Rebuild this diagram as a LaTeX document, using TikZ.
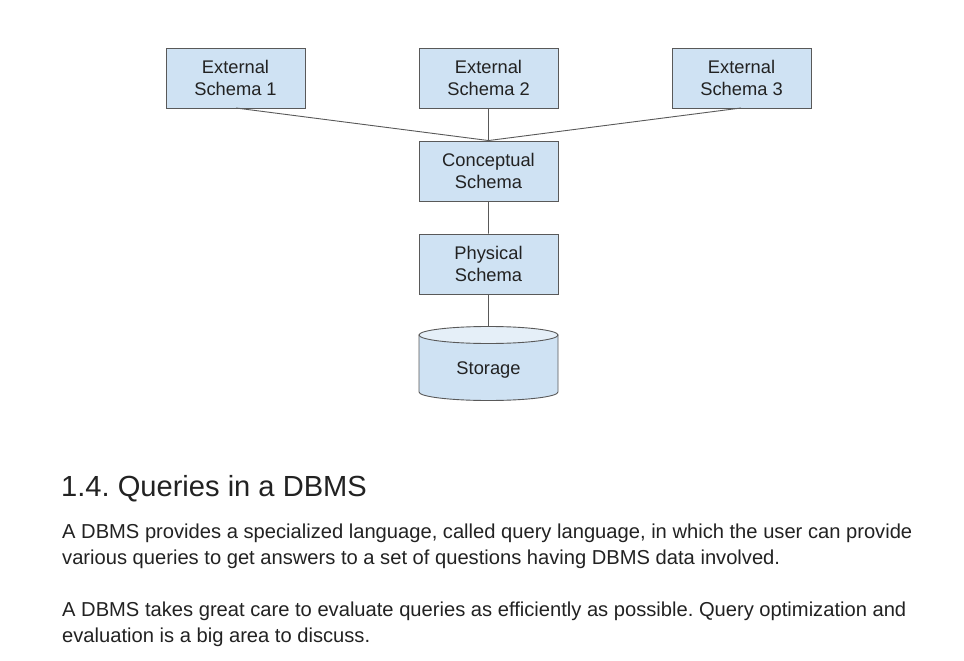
\documentclass[tikz,border=0pt]{standalone}
\usepackage{fontspec}
\setmainfont{Liberation Sans}
\frenchspacing
\definecolor{boxfill}{HTML}{CFE2F3}
\definecolor{boxline}{HTML}{595959}
\definecolor{txt}{HTML}{222222}
\begin{document}
\begin{tikzpicture}[x=1pt,y=-1pt,
  schemabox/.style={draw=boxline,fill=boxfill,line width=0.9pt,minimum width=139pt,minimum height=60pt,inner sep=0pt,align=center,font=\fontsize{18.3}{22}\selectfont,text=txt},
  link/.style={draw=boxline,line width=0.9pt},
  body/.style={anchor=base west,inner sep=0pt,font=\fontsize{20.15}{26}\selectfont,text=txt}]
\useasboundingbox (0,0) rectangle (964,661);
\fill[white] (0,0) rectangle (964,661);
\node[schemabox] (e1) at (235.5,78) {External\\Schema 1};
\node[schemabox] (e2) at (488.5,78) {External\\Schema 2};
\node[schemabox] (e3) at (741.5,78) {External\\Schema 3};
\node[schemabox] (cs) at (488.5,171) {Conceptual\\Schema};
\node[schemabox] (ps) at (488.5,264) {Physical\\Schema};
% storage cylinder
\draw[draw=boxline,fill=boxfill,line width=0.9pt]
  (419,335) -- (419,392) arc[start angle=180,end angle=360,x radius=69.5,y radius=-8.5]
  -- (558,335) -- cycle;
\draw[draw=boxline,fill=boxfill!55!white,line width=0.9pt] (488.5,335) ellipse[x radius=69.5,y radius=8.5];
\coordinate (sttop) at (488.5,326.5);
\node[inner sep=0pt,font=\fontsize{18.3}{22}\selectfont,text=txt] (st) at (488.5,370) {Storage};
\coordinate (e1b) at (236,108);
\coordinate (e3b) at (741,108);
\path[link] (e1b) -- (cs.north) (e3b) -- (cs.north) (e2.south) -- (cs.north)
  (cs.south) -- (ps.north) (ps.south) -- (sttop);
\node[anchor=base west,inner sep=0pt,font=\fontsize{29.1}{32}\selectfont,text=txt] (h) at (61,496.5) {1.4. Queries in a DBMS};
\node[body] (p1) at (62,538) {A DBMS provides a specialized language, called query language, in which the user can provide};
\node[body] (p2) at (62,564) {various queries to get answers to a set of questions having DBMS data involved.};
\node[body] (p3) at (62,616) {A DBMS takes great care to evaluate queries as efficiently as possible. Query optimization and};
\node[body] (p4) at (62,642) {evaluation is a big area to discuss.};
\end{tikzpicture}
\end{document}
